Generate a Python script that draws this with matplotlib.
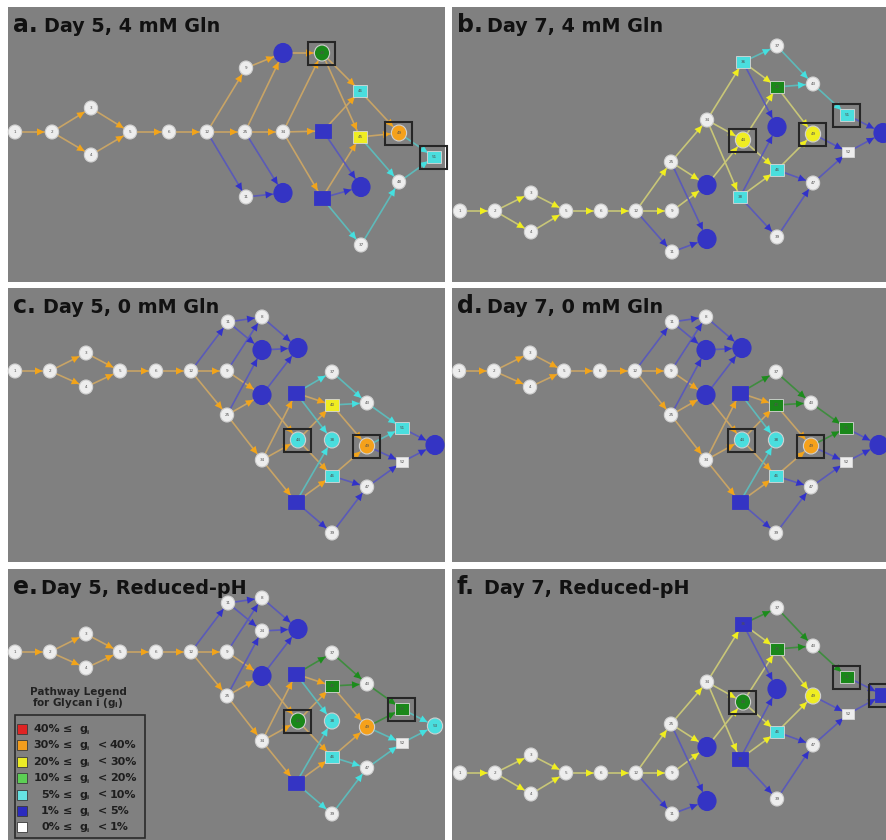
import numpy as np
import matplotlib.pyplot as plt
from matplotlib.patches import Rectangle, Ellipse, Polygon

plt.rcParams['font.family'] = ['DejaVu Sans']

W, H = 887, 840

# node placement inside a panel (pixels from the panel's top-left corner)
layout_a = {
    '1': (7, 125), '2': (44, 125), '3': (83, 101), '4': (83, 148), '5': (122, 125),
    '6': (161, 125), '12': (199, 125), '25': (237, 125), '34': (275, 125),
    'sq1': (315, 124), '9': (238, 61), 'b1': (275, 46), '44': (314, 46),
    '46': (352, 84), '45': (352, 130), '49': (391, 126), '51': (426, 150),
    '11': (238, 190), 'b2': (275, 186), 'sq2': (314, 191), 'b3': (353, 180),
    '48': (391, 175), '37': (353, 238),
}
layout_b = {
    '1': (8, 204), '2': (43, 204), '3': (79, 186), '4': (79, 225), '5': (114, 204),
    '6': (149, 204), '12': (184, 204), '9': (220, 204), '25': (219, 155),
    '11': (220, 245), 'b1': (255, 178), 'b2': (255, 232), '34': (255, 113),
    '36': (291, 55), '37': (325, 39), '40': (325, 80), '43': (361, 77),
    '44': (291, 133), 'b3': (325, 120), '49': (361, 127), '51': (395, 108),
    'b4': (431, 126), '46': (325, 163), '52': (396, 145), '38': (288, 190),
    '47': (361, 176), '39': (325, 230),
}
layout_c = {
    '1': (7, 83), '2': (42, 83), '3': (78, 65), '4': (78, 99), '5': (112, 83),
    '6': (148, 83), '12': (183, 83), '9': (219, 83), '11': (220, 34), '8': (254, 29),
    'b1': (254, 62), 'b2': (290, 60), 'b3': (254, 107), '25': (219, 127),
    '34': (254, 172), 'sq1': (288, 105), '37': (324, 84), '40': (324, 117),
    '43': (359, 115), '44': (290, 152), '38': (324, 152), '49': (359, 158),
    '51': (394, 140), 'b4': (427, 157), '52': (394, 174), '46': (324, 188),
    '47': (359, 199), 'sq2': (288, 214), '39': (324, 245),
}

# panel headings
letters = ['a.', 'b.', 'c.', 'd.', 'e.', 'f.']
conditions = ['Day 5, 4 mM Gln', 'Day 7, 4 mM Gln', 'Day 5, 0 mM Gln',
              'Day 7, 0 mM Gln', 'Day 5, Reduced-pH', 'Day 7, Reduced-pH']

# glycan class of each node (white = 0-1 % if not listed)
colors_a = {'b': 'b1 b2 b3 sq1 sq2', 'g': '44', 'c': '46 51', 'y': '45', 'o': '49'}
colors_b = {'b': 'b1 b2 b3 b4', 'c': '36 46 38 51', 'g': '40', 'y': '44 49'}
colors_c = {'b': 'b1 b2 b3 b4 sq1 sq2', 'y': '40', 'c': '44 38 51 46', 'o': '49'}
colors_d = {'b': 'b1 b2 b3 b4 sq1 sq2', 'g': '40 51', 'c': '44 38 46', 'o': '49'}
colors_e = {'b': 'b2 b3 sq1 sq2', 'g': '40 51 44', 'c': '38 46 b4', 'o': '49'}
colors_f = {'b': 'b1 b2 b3 b4 36 38', 'g': '40 44 51', 'y': '49', 'c': '46'}

squares_a = 'sq1 sq2 46 45 51'
squares_b = '36 40 46 38 51 52'
squares_c = 'sq1 sq2 40 51 46 52'
squares_f = '36 40 46 38 51 52 b4'

boxes_a = '44 49 51'
boxes_b = '44 49 51'
boxes_c = '44 49'
boxes_d = '44 49'
boxes_e = '44 51'
boxes_f = '44 51 b4'

extra_labels_e = {'b1': '24', 'b4': '53'}

# reaction edges, grouped by pathway class
edges_a = {
    'o': '1>2 2>3 2>4 3>5 4>5 5>6 6>12 12>25 25>34 34>sq1 12>9 9>b1 25>b1 b1>44 '
         '34>44 44>46 44>45 sq1>46 34>sq2 sq2>45 46>49 45>49',
    'b': '12>11 25>b2 11>b2 sq1>b3 sq2>b3',
    'c': 'sq2>37 37>48 45>48 48>51 49>51',
}
edges_b = {
    'y': '1>2 2>3 2>4 3>5 4>5 5>6 6>12 12>9 12>25 25>34 25>b1 9>b1 34>36 34>44 '
         '34>38 b1>44 44>40 36>40 40>49 44>46 38>46 46>49',
    'b': '12>11 11>b2 25>b2 36>b3 38>b3 38>39 46>47 39>47 49>52 47>52 52>b4 51>b4',
    'c': '36>37 37>43 40>43 43>51',
}
edges_c = {
    'o': '1>2 2>3 2>4 3>5 4>5 5>6 6>12 12>9 12>25 9>b3 25>b3 25>34 34>sq1 34>44 '
         '34>sq2 b3>44 44>40 44>46 sq1>40 40>49 sq2>46 46>49',
    'b': '12>11 11>8 9>8 11>b1 25>b1 8>b2 b1>b2 b3>b2 49>52 46>47 sq2>39 39>47 '
         '47>52 52>b4 51>b4',
    'c': 'sq1>37 37>43 40>43 43>51 sq1>38 sq2>38 49>51',
}
edges_d = {
    'o': edges_c['o'],
    'b': edges_c['b'],
    'g': 'sq1>37 37>43 40>43 43>51 49>51',
    'c': 'sq1>38 sq2>38',
}
edges_e = {
    'o': edges_c['o'],
    'b': '12>11 11>8 9>8 11>b1 25>b1 8>b2 b1>b2 b3>b2',
    'c': 'sq1>38 sq2>38 49>52 52>b4 46>47 sq2>39 39>47 47>52 51>b4',
    'g': 'sq1>37 37>43 40>43 43>51 49>51',
}
edges_f = {
    'y': edges_b['y'],
    'b': edges_b['b'],
    'g': '36>37 37>43 40>43 43>51',
}

# legend
legend_lo = ['40%', '30%', '20%', '10%', '5%', '1%', '0%']
legend_hi = ['', '40%', '30%', '20%', '10%', '5%', '1%']
legend_fill = ['#e02424', '#f39d1d', '#ecec26', '#5ccf54', '#66e2e2', '#2b2bbf', '#ffffff']

fill = {'w': '#ededed', 'b': '#3434c4', 'c': '#4adede', 'g': '#1a881a',
        'y': '#efed22', 'o': '#f5a11b'}
line_col = {'o': '#c8a466', 'y': '#c8c678', 'b': '#5a5ab8', 'c': '#5ebaba', 'g': '#3f8c3f'}
head_col = {'o': '#f2a41a', 'y': '#f0ee1e', 'b': '#3232c8', 'c': '#44e0e0', 'g': '#1c8c1c'}

origins = [(8, 7), (452, 7), (8, 288), (452, 288), (8, 569), (452, 569)]
sizes = [(437, 275), (435, 275), (437, 274), (435, 274), (437, 271), (435, 271)]

panels = [
    (layout_a, colors_a, squares_a, boxes_a, edges_a, {}),
    (layout_b, colors_b, squares_b, boxes_b, edges_b, {}),
    (layout_c, colors_c, squares_c, boxes_c, edges_c, {}),
    (layout_c, colors_d, squares_c, boxes_d, edges_d, {}),
    (layout_c, colors_e, squares_c, boxes_e, edges_e, extra_labels_e),
    (layout_b, colors_f, squares_f, boxes_f, edges_f, {}),
]
title_dx = [31, 30, 30, 30, 28, 27]


def node_size(col, shape):
    if shape == 'sq':
        return {'b': 8.0, 'w': 6.0}.get(col, 7.0)
    return {'b': 9.5, 'w': 7.0}.get(col, 8.0)


fig = plt.figure(figsize=(W / 100, H / 100), dpi=100)
ax = fig.add_axes([0, 0, 1, 1])
ax.set_xlim(0, W)
ax.set_ylim(H, 0)
ax.axis('off')

for k, (layout, colors, squares, boxes, edges, extra) in enumerate(panels):
    ox, oy = origins[k]
    pw, ph = sizes[k]
    ax.add_patch(Rectangle((ox, oy), pw, ph, fc='#808080', ec='none', zorder=0))

    col_of = {n: 'w' for n in layout}
    for c, names in colors.items():
        for n in names.split():
            col_of[n] = c
    sq = set(squares.split())
    shape_of = {n: ('sq' if n in sq else 'circ') for n in layout}
    pos = {n: (ox + x, oy + y) for n, (x, y) in layout.items()}

    # edges with arrowheads stopping at the target node
    for c, spec in edges.items():
        for e in spec.split():
            s, d = e.split('>')
            x0, y0 = pos[s]
            x1, y1 = pos[d]
            ax.plot([x0, x1], [y0, y1], color=line_col[c], lw=1.2, zorder=1,
                    solid_capstyle='butt')
            u = np.array([x1 - x0, y1 - y0], dtype=float)
            u /= np.hypot(*u)
            p = np.array([-u[1], u[0]])
            tip = np.array([x1, y1]) - u * (node_size(col_of[d], shape_of[d]) + 0.5)
            base = tip - u * 7.5
            ax.add_patch(Polygon([tip, base + p * 3.6, base - p * 3.6], closed=True,
                                 fc=head_col[c], ec='none', zorder=2))

    # glycan nodes
    for n, (x, y) in pos.items():
        c = col_of[n]
        r = node_size(c, shape_of[n])
        if shape_of[n] == 'sq':
            ax.add_patch(Rectangle((x - r, y - r * 0.85), 2 * r, 1.7 * r, fc=fill[c],
                                   ec='#d8d8d8' if c != 'b' else fill[c], lw=0.6, zorder=3))
        else:
            ax.add_patch(Ellipse((x, y), 1.9 * r, 2 * r, fc=fill[c],
                                 ec='#d0d0d0' if c != 'b' else fill[c], lw=0.8, zorder=3))
        label = extra.get(n, n if n.isdigit() else None)
        if label:
            ax.text(x, y, label, fontsize=3, ha='center', va='center',
                    color='#505050', zorder=4)

    for n in boxes.split():
        x, y = pos[n]
        ax.add_patch(Rectangle((x - 13.5, y - 11.5), 27, 23, fc='none',
                               ec='#262626', lw=1.5, zorder=5))

    ax.text(ox + 5, oy + 25, letters[k], fontsize=17, fontweight='bold',
            color='#111111', va='baseline', ha='left', zorder=6)
    ax.text(ox + 5 + title_dx[k], oy + 25, conditions[k], fontsize=13.8,
            fontweight='bold', color='#111111', va='baseline', ha='left', zorder=6)

# pathway legend in panel e
lx, ly = origins[4]
ax.text(lx + 70, ly + 123, 'Pathway Legend', fontsize=7.5, fontweight='bold',
        color='#222222', ha='center', va='center', zorder=6)
ax.text(lx + 70, ly + 134, 'for Glycan i (g$_\\mathregular{i}$)', fontsize=7.5,
        fontweight='bold', color='#222222', ha='center', va='center', zorder=6)
ax.add_patch(Rectangle((lx + 7, ly + 146), 130, 123, fc='none', ec='#2a2a2a',
                       lw=1.2, zorder=6))
for i in range(len(legend_lo)):
    yy = ly + 160 + 16.4 * i
    ax.add_patch(Rectangle((lx + 9, yy - 5), 10, 10, fc=legend_fill[i], ec='#3a3a3a',
                           lw=0.6, zorder=6))
    ax.text(lx + 52, yy, legend_lo[i], fontsize=8, fontweight='bold', color='#1e1e1e',
            ha='right', va='center', zorder=6)
    ax.text(lx + 60, yy, '\u2264', fontsize=8, fontweight='bold', color='#1e1e1e',
            ha='center', va='center', zorder=6)
    ax.text(lx + 72, yy, 'g', fontsize=8, fontweight='bold', color='#1e1e1e',
            ha='left', va='center', zorder=6)
    ax.text(lx + 79, yy + 3, 'i', fontsize=4.5, fontweight='bold', color='#1e1e1e',
            ha='left', va='center', zorder=6)
    if legend_hi[i]:
        ax.text(lx + 95, yy, '<', fontsize=8, fontweight='bold', color='#1e1e1e',
                ha='center', va='center', zorder=6)
        ax.text(lx + 102, yy, legend_hi[i], fontsize=8, fontweight='bold',
                color='#1e1e1e', ha='left', va='center', zorder=6)

fig.savefig('out.png', dpi=100, facecolor='white')
